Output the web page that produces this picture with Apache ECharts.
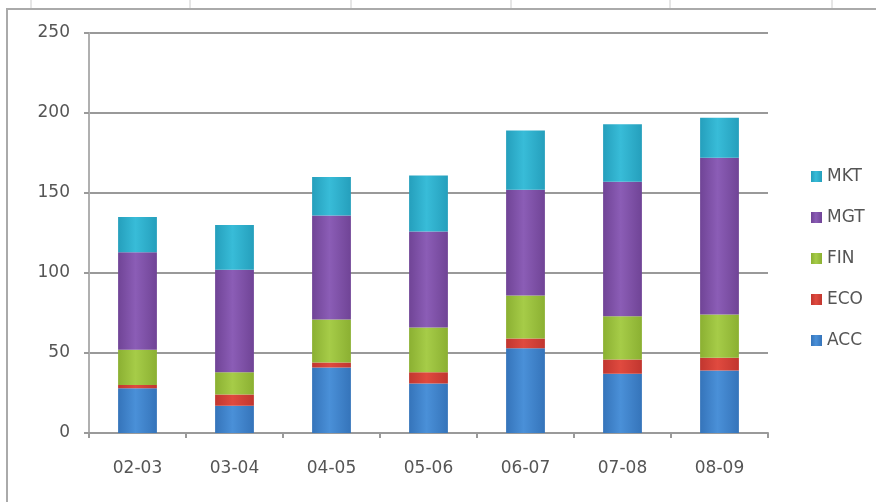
<!DOCTYPE html>
<html>
<head>
<meta charset="utf-8">
<script src="https://cdn.jsdelivr.net/npm/echarts@6/dist/echarts.min.js"></script>
<style>
html,body{margin:0;padding:0;background:#fff;}
#chart{width:876px;height:502px;}
</style>
</head>
<body>
<div id="chart"></div>
<script>
//类别（学年）
var years = ['02-03', '03-04', '04-05', '05-06', '06-07', '07-08', '08-09'];
//各系列数值，从下往上堆叠
var accData = [28, 17, 41, 31, 53, 37, 39];
var ecoData = [2, 7, 3, 7, 6, 9, 8];
var finData = [22, 14, 27, 28, 27, 27, 27];
var mgtData = [61, 64, 65, 60, 66, 84, 98];
var mktData = [22, 28, 24, 35, 37, 36, 25];
//y轴刻度
var yTicks = [0, 50, 100, 150, 200, 250];

//横向渐变，模仿excel2007的柱子
function grad(c1, c2) {
	return new echarts.graphic.LinearGradient(0, 0, 1, 0, [
		{offset: 0, color: c2},
		{offset: 0.45, color: c1},
		{offset: 1, color: c2}
	]);
}

function bar(name, data, c1, c2) {
	return {
		name: name,
		type: 'bar',
		stack: 'total',
		data: data,
		barWidth: '40%',
		itemStyle: {color: grad(c1, c2)},
		emphasis: {disabled: true}
	};
}

var labelFont = 'DejaVu Sans';
var chart = echarts.init(document.getElementById('chart'));
var option = {
	backgroundColor: '#fff',
	animation: false,
	color: ['#2fb3d0', '#8153ab', '#9dc23e', '#d8423a', '#3f86cf'],
	grid: {left: 89, right: 108, top: 33, bottom: 69, containLabel: false},
	legend: {
		orient: 'vertical',
		left: 806,
		top: 163,
		itemWidth: 11,
		itemHeight: 11,
		itemGap: 24,
		icon: 'rect',
		selectedMode: false,
		data: ['MKT', 'MGT', 'FIN', 'ECO', 'ACC'],
		textStyle: {fontFamily: labelFont, fontSize: 17, color: '#555', padding: [0, 0, 0, 0]}
	},
	xAxis: {
		type: 'category',
		data: years,
		axisLine: {lineStyle: {color: '#9a9a9a', width: 2}},
		axisTick: {show: true, inside: false, length: 5, lineStyle: {color: '#9a9a9a', width: 2}},
		axisLabel: {fontFamily: labelFont, fontSize: 17, color: '#555', margin: 27}
	},
	yAxis: {
		type: 'value',
		min: yTicks[0],
		max: yTicks[yTicks.length - 1],
		interval: 50,
		axisLine: {show: true, lineStyle: {color: '#b0b0b0', width: 2}},
		axisTick: {show: true, length: 5, lineStyle: {color: '#9a9a9a', width: 2}},
		splitLine: {lineStyle: {color: '#999', width: 2}},
		axisLabel: {fontFamily: labelFont, fontSize: 17, color: '#555', margin: 19}
	},
	//表格背景线
	graphic: [
		{type: 'line', shape: {x1: 6, y1: 9, x2: 876, y2: 9}, style: {stroke: '#aaa', lineWidth: 2}},
		{type: 'line', shape: {x1: 7, y1: 9, x2: 7, y2: 502}, style: {stroke: '#aaa', lineWidth: 2}},
		{type: 'line', shape: {x1: 31, y1: 0, x2: 31, y2: 8}, style: {stroke: '#ccc', lineWidth: 1}},
		{type: 'line', shape: {x1: 190, y1: 0, x2: 190, y2: 8}, style: {stroke: '#ccc', lineWidth: 1}},
		{type: 'line', shape: {x1: 351, y1: 0, x2: 351, y2: 8}, style: {stroke: '#ccc', lineWidth: 1}},
		{type: 'line', shape: {x1: 511, y1: 0, x2: 511, y2: 8}, style: {stroke: '#ccc', lineWidth: 1}},
		{type: 'line', shape: {x1: 670, y1: 0, x2: 670, y2: 8}, style: {stroke: '#ccc', lineWidth: 1}},
		{type: 'line', shape: {x1: 832, y1: 0, x2: 832, y2: 8}, style: {stroke: '#ccc', lineWidth: 1}}
	],
	series: [
		bar('ACC', accData, '#4a90d8', '#3574ba'),
		bar('ECO', ecoData, '#e04a3f', '#c1362f'),
		bar('FIN', finData, '#a6cc48', '#8bb032'),
		bar('MGT', mgtData, '#8b5db6', '#704496'),
		bar('MKT', mktData, '#38bcd8', '#259fbc')
	]
};
chart.setOption(option);
</script>
</body>
</html>
